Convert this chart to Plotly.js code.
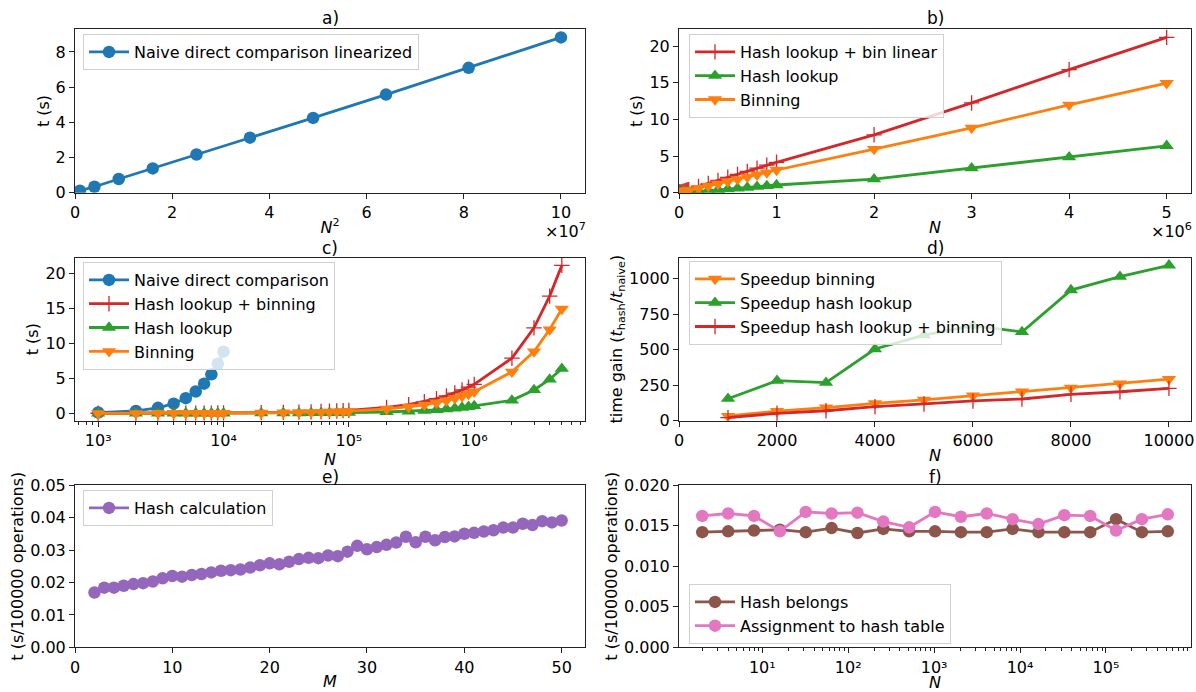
<!DOCTYPE html>
<html><head><meta charset="utf-8">
<script src="https://cdn.plot.ly/plotly-3.0.1.min.js"></script>
<style>html,body{margin:0;padding:0;background:#fff}#chart{width:1196px;height:692px}</style>
</head><body><div id="chart"></div>
<script>
// ---------- data ----------
const naiveN = [1000,2000,3000,4000,5000,6000,7000,8000,9000,10000];
const naiveNSquared = [1e6,4e6,9e6,16e6,25e6,36e6,49e6,64e6,81e6,100e6];
const naiveT = [0.11,0.34,0.78,1.38,2.17,3.13,4.25,5.58,7.10,8.83];

const benchN = [1000,2000,3000,4000,5000,6000,7000,8000,9000,10000,
  20000,30000,40000,50000,60000,70000,80000,90000,100000,
  200000,300000,400000,500000,600000,700000,800000,900000,1000000,
  2000000,3000000,4000000,5000000];
const hashBinT = [0.005,0.0065,0.011,0.014,0.018,0.0225,0.028,0.030,0.035,0.039,
  0.085,0.13,0.17,0.21,0.25,0.30,0.34,0.38,0.42,
  0.85,1.25,1.68,2.10,2.50,2.90,3.35,3.75,4.15,
  7.90,12.25,16.80,21.20];
const hashT = [0.0007,0.0012,0.0029,0.0027,0.0036,0.0047,0.0068,0.0061,0.0070,0.0081,
  0.017,0.026,0.035,0.045,0.054,0.064,0.075,0.085,0.096,
  0.19,0.29,0.39,0.50,0.60,0.71,0.82,0.93,1.05,
  1.85,3.35,4.85,6.40];
const binT = [0.0033,0.005,0.0085,0.0113,0.0149,0.0178,0.0208,0.024,0.0272,0.0303,
  0.06,0.09,0.12,0.15,0.18,0.21,0.24,0.27,0.30,
  0.62,0.92,1.22,1.53,1.83,2.15,2.45,2.75,3.10,
  5.95,8.85,12.00,14.95];

const speedN = [1000,2000,3000,4000,5000,6000,7000,8000,9000,10000];
const speedBin = [33,68,92,122,146,176,204,232,261,293];
const speedHash = [155,282,268,505,603,670,625,920,1014,1094];
const speedHashBin = [21,52,70,99,118,139,153,186,204,228];

const hashM = [2,3,4,5,6,7,8,9,10,11,12,13,14,15,16,17,18,19,20,21,22,23,24,25,26,
  27,28,29,30,31,32,33,34,35,36,37,38,39,40,41,42,43,44,45,46,47,48,49,50];
const hashCalcT = [0.0169,0.0184,0.0184,0.0190,0.0195,0.0198,0.0203,0.0213,0.0220,0.0218,
  0.0223,0.0226,0.0231,0.0236,0.0238,0.0240,0.0246,0.0253,0.0259,0.0256,
  0.0264,0.0272,0.0276,0.0275,0.0283,0.0281,0.0295,0.0313,0.0302,0.0309,
  0.0316,0.0323,0.0341,0.0324,0.0341,0.0330,0.0340,0.0342,0.0350,0.0353,
  0.0357,0.0361,0.0369,0.0369,0.0381,0.0377,0.0389,0.0385,0.0391];

const tableN = [2,4,8,16,32,64,128,256,512,1024,2048,4096,8192,16384,32768,65536,131072,262144,524288];
const belongsT = [0.0142,0.0143,0.0144,0.0145,0.0142,0.0147,0.0141,0.0146,0.0143,0.0143,
  0.0142,0.0142,0.0146,0.0142,0.0142,0.0142,0.0158,0.0142,0.0143];
const assignT = [0.0162,0.0165,0.0162,0.0143,0.0167,0.0165,0.0166,0.0155,0.0148,0.0167,
  0.0161,0.0165,0.0158,0.0152,0.0163,0.0162,0.0144,0.0158,0.0164];

const ticksA = ['0','2','4','6','8','10'];
const ticksB = ['0','1','2','3','4','5'];
const ticksC = ['10³','10⁴','10⁵','10⁶'];
const ticksF = ['10¹','10²','10³','10⁴','10⁵'];

// ---------- style ----------
const C = {blue:'#1f77b4',orange:'#ff7f0e',green:'#2ca02c',red:'#d62728',purple:'#9467bd',brown:'#8c564b',pink:'#e377c2'};
const LW = 2.8;
const FONT = 'DejaVu Sans';

function tr(x,y,name,color,symbol,xa,ya,leg){
  const m = {color:color,size:12.5,symbol:symbol};
  if(symbol==='cross-thin'){ m.line={color:color,width:1.3}; m.size=11; }
  if(symbol.indexOf('triangle')===0){ m.size=12.5; }
  return {type:'scatter',mode:'lines+markers',x:x,y:y,name:name,xaxis:xa,yaxis:ya,legend:leg,
    line:{color:color,width:LW},marker:m};
}

const data = [
  tr(naiveNSquared,naiveT,'Naive direct comparison linearized',C.blue,'circle','x','y','legend'),
  tr(benchN,hashBinT,'Hash lookup + bin linear',C.red,'cross-thin','x2','y2','legend2'),
  tr(benchN,hashT,'Hash lookup',C.green,'triangle-up','x2','y2','legend2'),
  tr(benchN,binT,'Binning',C.orange,'triangle-down','x2','y2','legend2'),
  tr(naiveN,naiveT,'Naive direct comparison',C.blue,'circle','x3','y3','legend3'),
  tr(benchN,hashBinT,'Hash lookup + binning',C.red,'cross-thin','x3','y3','legend3'),
  tr(benchN,hashT,'Hash lookup',C.green,'triangle-up','x3','y3','legend3'),
  tr(benchN,binT,'Binning',C.orange,'triangle-down','x3','y3','legend3'),
  tr(speedN,speedBin,'Speedup binning',C.orange,'triangle-down','x4','y4','legend4'),
  tr(speedN,speedHash,'Speedup hash lookup',C.green,'triangle-up','x4','y4','legend4'),
  tr(speedN,speedHashBin,'Speedup hash lookup + binning',C.red,'cross-thin','x4','y4','legend4'),
  tr(hashM,hashCalcT,'Hash calculation',C.purple,'circle','x5','y5','legend5'),
  tr(tableN,belongsT,'Hash belongs',C.brown,'circle','x6','y6','legend6'),
  tr(tableN,assignT,'Assignment to hash table',C.pink,'circle','x6','y6','legend6')
];

function ax(extra){
  return Object.assign({showline:true,mirror:true,linecolor:'#222',linewidth:1,ticks:'outside',ticklen:5,
    tickwidth:1,tickcolor:'#222',showgrid:false,zeroline:false,tickfont:{family:FONT,size:16,color:'#000'}},extra);
}
function ttl(t,s){ return {text:t,font:{family:FONT,size:16,color:'#000'},standoff:s}; }
function minorLog(lo,hi){
  const v=[]; for(let e=lo;e<=hi;e++){ for(let k=2;k<=9;k++) v.push(k*Math.pow(10,e)); }
  return {tickmode:'array',tickvals:v,ticks:'outside',ticklen:3,tickcolor:'#222',tickwidth:1};
}

const W=1196,H=692;
const colL=[75/W,585/W], colR=[679/W,1191/W];
const row1=[1-192.7/H,1-29.3/H], row2=[1-420.7/H,1-257.7/H], row3=[1-647.4/H,1-485.1/H];

function leg(xp,yp){
  return {x:xp/W,y:1-yp/H,xanchor:'left',yanchor:'top',bgcolor:'rgba(255,255,255,0.8)',
    bordercolor:'#d0d0d0',borderwidth:1,font:{family:FONT,size:16,color:'#000'},itemwidth:40,tracegroupgap:0};
}
function title(t,xc,yc){
  return {text:t,xref:'paper',yref:'paper',x:xc/W,y:1-yc/H,xanchor:'center',yanchor:'middle',showarrow:false,
    font:{family:FONT,size:17,color:'#000'}};
}
function offsetText(t,xr){
  return {text:t,xref:'paper',yref:'paper',x:xr/W,y:1-217.5/H,xanchor:'right',yanchor:'top',showarrow:false,
    font:{family:FONT,size:16,color:'#000'}};
}

const layout = {
  width:W,height:H,margin:{l:0,r:0,t:0,b:0},paper_bgcolor:'#fff',plot_bgcolor:'#fff',
  font:{family:FONT,size:16,color:'#000'},showlegend:true,
  xaxis: ax({domain:colL,anchor:'y',range:[0,1.0495e8],tickmode:'array',tickvals:[0,2e7,4e7,6e7,8e7,1e8],ticktext:ticksA,title:ttl('<i>N</i><sup>2</sup>',0)}),
  yaxis: ax({domain:row1,anchor:'x',range:[0,9.29],dtick:2,title:ttl('t (s)',2)}),
  xaxis2: ax({domain:colR,anchor:'y2',range:[0,5.2495e6],tickmode:'array',tickvals:[0,1e6,2e6,3e6,4e6,5e6],ticktext:ticksB,title:ttl('<i>N</i>',0)}),
  yaxis2: ax({domain:row1,anchor:'x2',range:[0,22.3],dtick:5,title:ttl('t (s)',2)}),
  xaxis3: ax({domain:colL,anchor:'y3',type:'log',range:[2.815,6.884],tickmode:'array',tickvals:[1e3,1e4,1e5,1e6],ticktext:ticksC,minor:minorLog(2,6),title:ttl('<i>N</i>',0)}),
  yaxis3: ax({domain:row2,anchor:'x3',range:[-1.06,22.3],tick0:0,dtick:5,title:ttl('t (s)',2)}),
  xaxis4: ax({domain:colR,anchor:'y4',range:[0,10450],dtick:2000,tickformat:'d',title:ttl('<i>N</i>',0)}),
  yaxis4: ax({domain:row2,anchor:'x4',range:[0,1148],dtick:250,tickformat:'d',title:ttl('time gain (<i>t</i><sub>hash</sub>/<i>t</i><sub>naive</sub>)',2)}),
  xaxis5: ax({domain:colL,anchor:'y5',range:[0,52.4],dtick:10,title:ttl('<i>M</i>',0)}),
  yaxis5: ax({domain:row3,anchor:'x5',range:[0,0.05],dtick:0.01,tickformat:'.2f',title:ttl('t (s/100000 operations)',2)}),
  xaxis6: ax({domain:colR,anchor:'y6',type:'log',range:[0.03,5.99],tickmode:'array',tickvals:[10,100,1000,10000,100000],ticktext:ticksF,minor:minorLog(0,5),title:ttl('<i>N</i>',0)}),
  yaxis6: ax({domain:row3,anchor:'x6',range:[0,0.02],dtick:0.005,tickformat:'.3f',title:ttl('t (s/100000 operations)',2)}),
  legend: leg(83,34), legend2: leg(689,34), legend3: leg(83,262),
  legend4: leg(689,261), legend5: leg(83,490), legend6: leg(689,584),
  annotations:[
    title('a)',330,18), title('b)',935,18), title('c)',330,248),
    title('d)',935,248), title('e)',330,477), title('f)',935,477),
    offsetText('×10<sup>7</sup>',588), offsetText('×10<sup>6</sup>',1194)
  ]
};

Plotly.newPlot('chart',data,layout,{displayModeBar:false,staticPlot:true});
</script>
</body></html>
